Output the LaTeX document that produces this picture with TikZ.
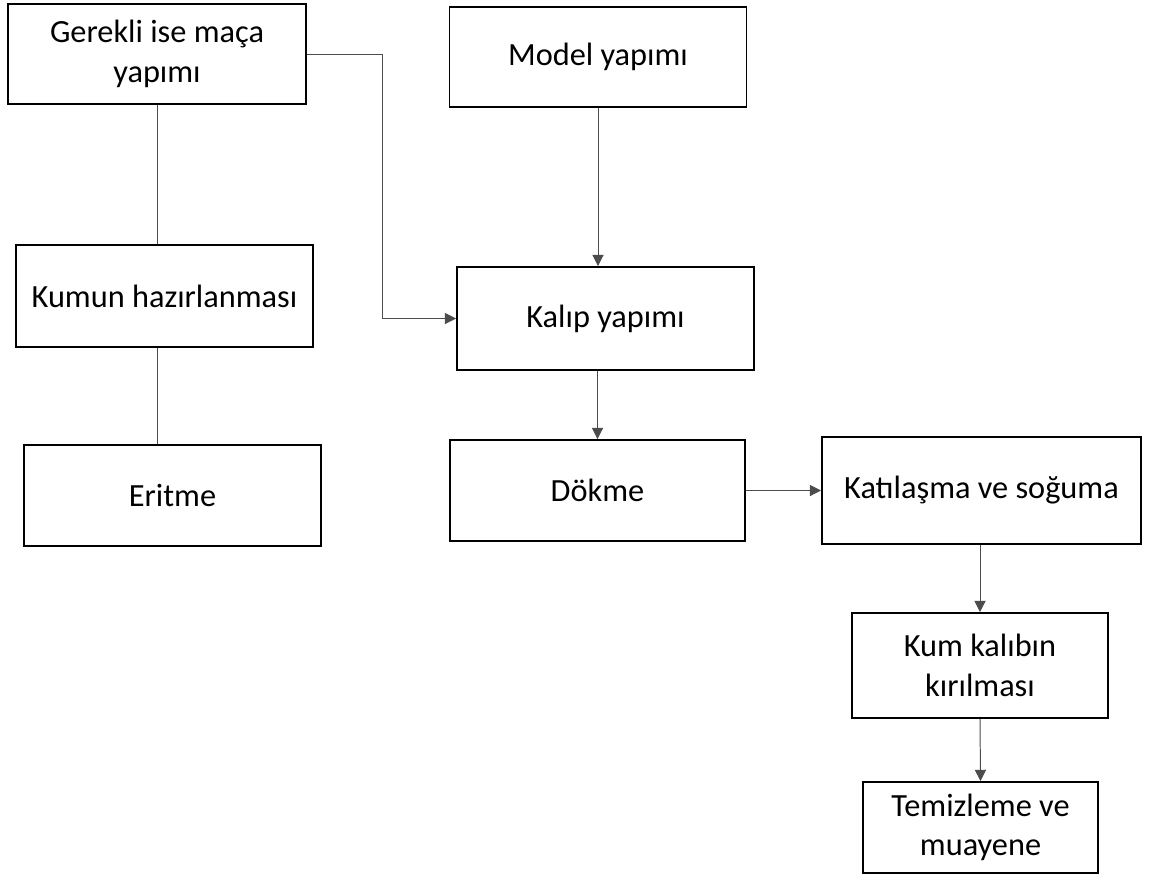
\documentclass[tikz,border=0pt]{standalone}
\usepackage{fontspec}
\setmainfont{Carlito}
\usetikzlibrary{arrows.meta}

\tikzset{
  adim/.style={draw=black, line width=1.4pt, align=center, inner sep=0pt,
    font=\fontsize{23}{28}\selectfont},
  bag/.style={draw=black!70, line width=0.7pt},
  ok/.style={bag, -{Triangle[width=8pt,length=8pt]}}
}

\begin{document}
\begin{tikzpicture}
\useasboundingbox (0,0) rectangle (28.725,-21.9);
    % sol sutun:
    \node[adim, minimum width=7.45cm, minimum height=2.5cm] (ger) at (3.925,-1.35) {Gerekli ise maça\\yapımı};
    \node[adim, minimum width=7.425cm, minimum height=2.55cm] (kum) at (4.1125,-7.4) {Kumun hazırlanması};
    \node[adim, minimum width=7.425cm, minimum height=2.525cm] (eri) at (4.3125,-12.3875) {Eritme};
    % orta sutun:
    \node[adim, minimum width=7.425cm, minimum height=2.5cm] (mod) at (14.95,-1.425) {Model yapımı};
    \node[adim, minimum width=7.425cm, minimum height=2.575cm] (kal) at (15.1375,-7.9625) {Kalıp yapımı};
    \node[adim, minimum width=7.375cm, minimum height=2.525cm] (dok) at (14.9375,-12.2625) {Dökme};
    % sag sutun:
    \node[adim, minimum width=7.975cm, minimum height=2.675cm] (kat) at (24.5375,-12.2625) {Katılaşma ve soğuma};
    \node[adim, minimum width=6.4cm, minimum height=2.625cm] (kir) at (24.5,-16.6375) {Kum kalıbın\\kırılması};
    \node[adim, minimum width=5.875cm, minimum height=2.275cm] (tem) at (24.5125,-20.6875) {Temizleme ve\\muayene};
    \coordinate (kose) at (9.55,-1.35);

\draw[bag] (ger.south) -- (ger.south |- kum.north);
\draw[bag] (ger.south |- kum.south) -- (ger.south |- eri.north);
\draw[ok] (ger.east) -- (kose) |- (kal.west);
\draw[ok] (mod.south) -- (mod.south |- kal.north);
\draw[ok] (dok.north |- kal.south) -- (dok.north);
\draw[ok] (dok.east) -- (kat.west);
\draw[ok] (kir.north |- kat.south) -- (kir.north);
\draw[ok] (kir.south) -- (tem.north);
\end{tikzpicture}
\end{document}
